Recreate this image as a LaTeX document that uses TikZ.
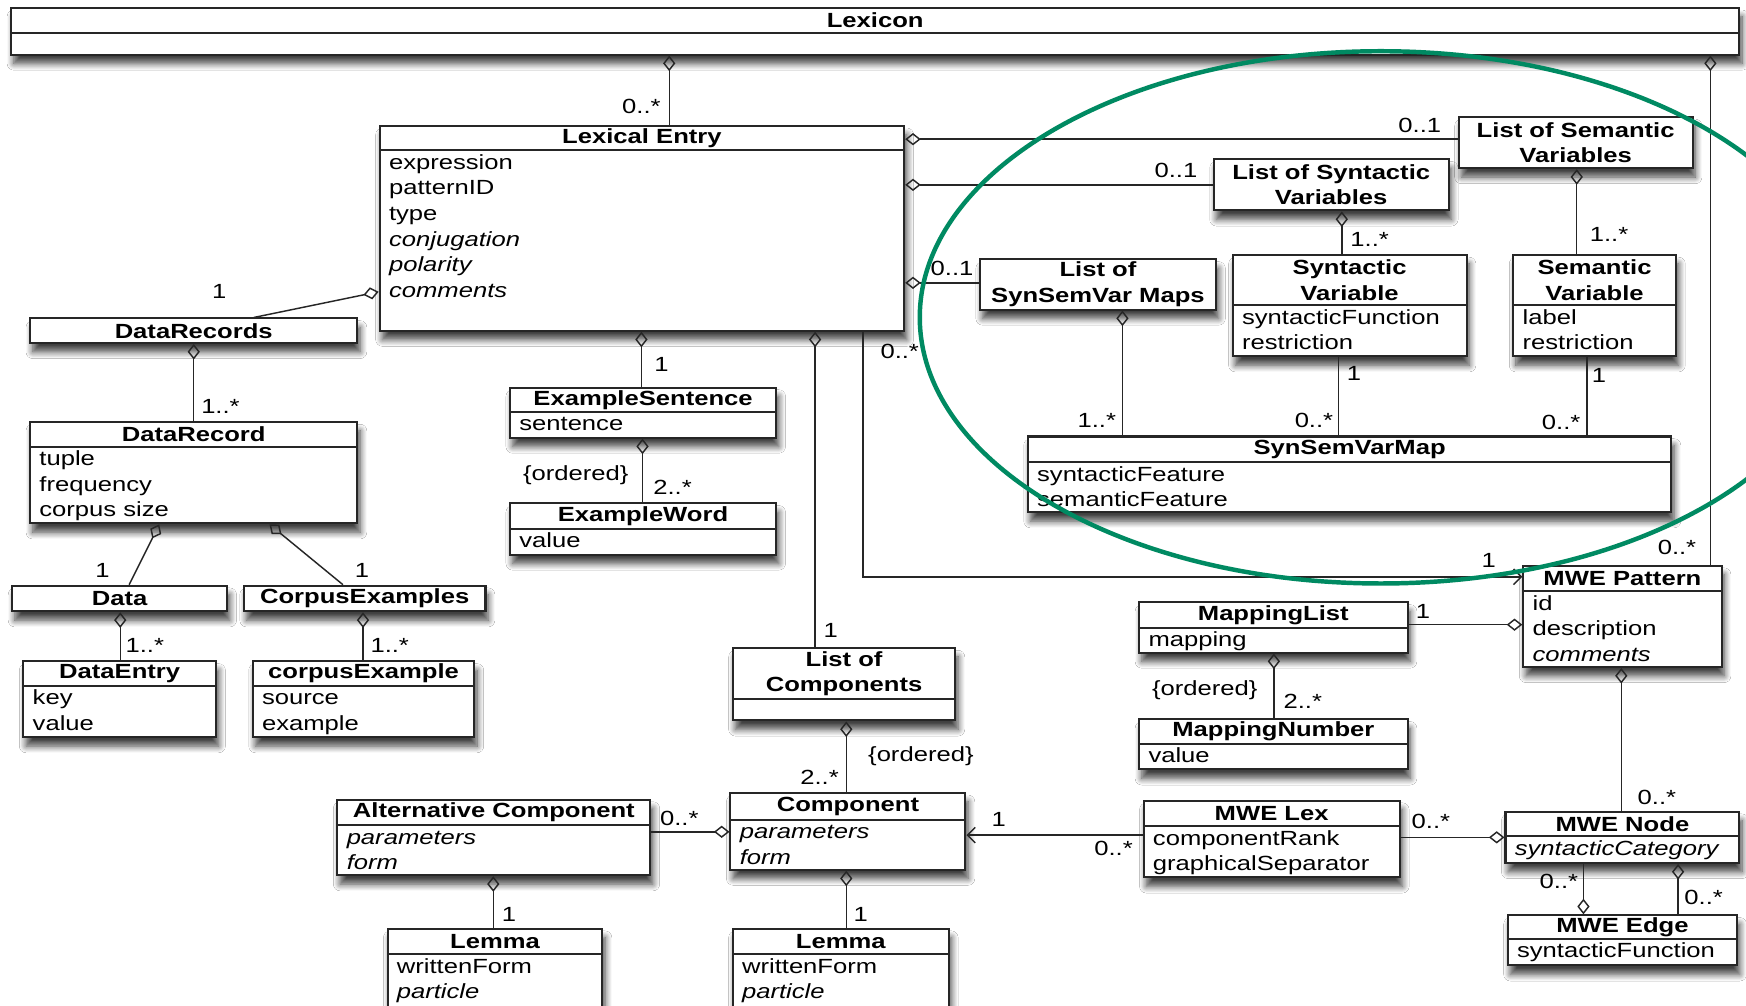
\documentclass[tikz,border=0pt]{standalone}
\usepackage{fontspec}
\setmainfont{Liberation Sans}[FakeStretch=1.25]
\usetikzlibrary{arrows.meta,fit,shadows.blur}
\definecolor{ellgreen}{RGB}{0,138,98}
\tikzset{
  umlbox/.style={draw=black!85, line width=0.9pt, fill=white, inner sep=0pt,
    blur shadow={shadow xshift=1.2pt, shadow yshift=-4pt, shadow blur radius=3pt, shadow blur steps=8, shadow opacity=75}},
  ttl/.style={font=\fontsize{9.2}{11.5}\selectfont\bfseries, align=center, inner sep=0pt},
  att/.style={font=\fontsize{9.2}{11.5}\selectfont, inner sep=0pt, anchor=base west},
  lab/.style={font=\fontsize{9.2}{11.5}\selectfont, inner sep=0pt},
  divline/.style={line width=0.9pt, draw=black!85},
  conn/.style={line width=0.65pt, draw=black!85},
  agg/.style={conn, {Diamond[open,length=7pt,width=5.5pt,line width=0.65pt]}-},
  nav/.style={conn, -{Straight Barb[length=3.5pt,width=7pt]}},
}
% name, x1, y1, x2, y2, divider, title, attributes
\newcommand{\umlclass}[8]{%
  \node[umlbox, fit={(#2,#3)(#4,#5)}] (#1) {};
  \node[ttl] (#1-t) at ({(#2+#4)/2},{(#3+#6)/2}) {#7};
  \draw[divline] (#2,#6) -- (#4,#6);
  \foreach \a [count=\i from 0] in {#8} {\node[att] (#1-a\i) at ({#2+8},{#6+17+23*\i}) {\a};}
}
% class with divider, no attributes
\newcommand{\umlbare}[7]{%
  \node[umlbox, fit={(#2,#3)(#4,#5)}] (#1) {};
  \node[ttl] (#1-t) at ({(#2+#4)/2},{(#3+#6)/2}) {#7};
  \draw[divline] (#2,#6) -- (#4,#6);
}
% single compartment
\newcommand{\umlplain}[6]{%
  \node[umlbox, fit={(#2,#3)(#4,#5)}] (#1) {};
  \node[ttl] (#1-t) at ({(#2+#4)/2},{(#3+#5)/2}) {#6};
}
\begin{document}
\begin{tikzpicture}[x=0.5pt, y=-0.5pt]
\fill[white] (0,0) rectangle (1568,903);
\path[use as bounding box, clip] (0,0) rectangle (1568,903);

% classes
\umlbare{Lexicon}{10}{7}{1562}{49}{30}{Lexicon}
\umlclass{LexEntry}{341}{113}{812}{297}{135}{Lexical Entry}{expression,patternID,type,\itshape conjugation,\itshape polarity,\itshape comments}
\umlplain{DataRecords}{27}{286}{321}{308}{DataRecords}
\umlclass{DataRecord}{27}{379}{321}{470}{401}{DataRecord}{tuple,frequency,corpus size}
\umlplain{Data}{11}{526}{204}{549}{Data}
\umlplain{CorpusExamples}{219}{526}{436}{549}{CorpusExamples}
\umlclass{DataEntry}{21}{594}{194}{662}{616}{DataEntry}{key,value}
\umlclass{CorpusExample}{227}{594}{426}{662}{616}{corpusExample}{source,example}
\umlclass{ExSent}{458}{348}{697}{393}{370}{ExampleSentence}{sentence}
\umlclass{ExWord}{458}{452}{697}{498}{475}{ExampleWord}{value}
\umlbare{ListComp}{658}{582}{858}{647}{628}{List of\\Components}
\umlclass{Component}{656}{712}{867}{781}{736}{Component}{\itshape parameters,\itshape form}
\umlclass{AltComp}{303}{718}{584}{786}{741}{Alternative Component}{\itshape parameters,\itshape form}
\umlclass{LemmaL}{348}{834}{541}{915}{857}{Lemma}{writtenForm,\itshape particle}
\umlclass{LemmaR}{658}{834}{852}{915}{857}{Lemma}{writtenForm,\itshape particle}
\umlclass{MWELex}{1027}{719}{1257}{788}{742}{MWE Lex}{componentRank,graphicalSeparator}
\umlclass{MWENode}{1352}{729}{1562}{775}{751}{MWE Node}{\itshape syntacticCategory}
\umlclass{MWEEdge}{1354}{822}{1560}{867}{843}{MWE Edge}{syntacticFunction}
\umlclass{MapList}{1023}{541}{1264}{586}{564}{MappingList}{mapping}
\umlclass{MapNum}{1023}{646}{1264}{691}{668}{MappingNumber}{value}
\umlclass{MWEPattern}{1368}{508}{1546}{599}{531}{MWE Pattern}{id,description,\itshape comments}
\umlplain{ListSemVar}{1310}{105}{1520}{151}{List of Semantic\\Variables}
\umlplain{ListSynVar}{1090}{143}{1301}{189}{List of Syntactic\\Variables}
\umlplain{ListSSVM}{880}{233}{1092}{278}{List of\\SynSemVar Maps}
\umlclass{SynVar}{1107}{229}{1317}{320}{274}{Syntactic\\Variable}{syntacticFunction,restriction}
\umlclass{SemVar}{1359}{229}{1505}{320}{274}{Semantic\\Variable}{label,restriction}
\umlclass{SSVM}{923}{392}{1501}{460}{415}{SynSemVarMap}{syntacticFeature,semanticFeature}

% connectors
\draw[agg] (Lexicon.south -| 601,0) -- (LexEntry.north -| 601,0);
\draw[agg] (Lexicon.south -| 1536,0) -- (MWEPattern.north -| 1536,0);
\draw[agg] (LexEntry.east |- 0,125) -- (ListSemVar.west |- 0,125);
\draw[agg] (LexEntry.east |- 0,166) -- (ListSynVar.west |- 0,166);
\draw[agg] (LexEntry.east |- 0,254) -- (ListSSVM.west |- 0,254);
\draw[agg] (ListSSVM.south -| 1008,0) -- (SSVM.north -| 1008,0);
\draw[agg] (ListSynVar.south -| 1205,0) -- (SynVar.north -| 1205,0);
\draw[agg] (ListSemVar.south -| 1416,0) -- (SemVar.north -| 1416,0);
\draw[conn] (SynVar.south -| 1202,0) -- (SSVM.north -| 1202,0);
\draw[conn] (SemVar.south -| 1425,0) -- (SSVM.north -| 1425,0);
\draw[nav] (LexEntry.south -| 775,0) |- (MWEPattern.west |- 0,518);
\draw[agg] (LexEntry.west |- 0,262) -- (DataRecords.north -| 228,0);
\draw[agg] (DataRecords.south -| 174,0) -- (DataRecord.north -| 174,0);
\draw[agg] (DataRecord.south -| 143,0) -- (Data.north -| 116,0);
\draw[agg] (DataRecord.south -| 242,0) -- (CorpusExamples.north -| 308,0);
\draw[agg] (Data.south -| 108,0) -- (DataEntry.north -| 108,0);
\draw[agg] (CorpusExamples.south -| 326,0) -- (CorpusExample.north -| 326,0);
\draw[agg] (LexEntry.south -| 576,0) -- (ExSent.north -| 576,0);
\draw[agg] (ExSent.south -| 577,0) -- (ExWord.north -| 577,0);
\draw[agg] (LexEntry.south -| 732,0) -- (ListComp.north -| 732,0);
\draw[agg] (ListComp.south -| 760,0) -- (Component.north -| 760,0);
\draw[agg] (Component.west |- 0,747) -- (AltComp.east |- 0,747);
\draw[agg] (AltComp.south -| 443,0) -- (LemmaL.north -| 443,0);
\draw[agg] (Component.south -| 760,0) -- (LemmaR.north -| 760,0);
\draw[nav] (MWELex.west |- 0,750) -- (Component.east |- 0,750);
\draw[agg] (MWENode.west |- 0,752) -- (MWELex.east |- 0,752);
\draw[agg] (MWEPattern.south -| 1456,0) -- (MWENode.north -| 1456,0);
\draw[agg] (MWEEdge.north -| 1422,0) -- (MWENode.south -| 1422,0);
\draw[agg] (MWENode.south -| 1507,0) -- (MWEEdge.north -| 1507,0);
\draw[agg] (MWEPattern.west |- 0,561) -- (MapList.east |- 0,561);
\draw[agg] (MapList.south -| 1144,0) -- (MapNum.north -| 1144,0);

% multiplicities
\node[lab] (l1) at (576,96) {0..*};
\node[lab] (l2) at (1506,492) {0..*};
\node[lab] (l3) at (1275,113) {0..1};
\node[lab] (l4) at (1056,153) {0..1};
\node[lab] (l5) at (855,241) {0..1};
\node[lab] (l6) at (985,378) {1..*};
\node[lab] (l7) at (1230,215) {1..*};
\node[lab] (l8) at (1445,211) {1..*};
\node[lab] (l9) at (1216,335) {1};
\node[lab] (l10) at (1180,378) {0..*};
\node[lab] (l11) at (1436,337) {1};
\node[lab] (l12) at (1402,379) {0..*};
\node[lab] (l13) at (808,316) {0..*};
\node[lab] (l14) at (1337,503) {1};
\node[lab] (l15) at (197,262) {1};
\node[lab] (l16) at (198,365) {1..*};
\node[lab] (l17) at (92,512) {1};
\node[lab] (l18) at (325,512) {1};
\node[lab] (l19) at (130,580) {1..*};
\node[lab] (l20) at (350,580) {1..*};
\node[lab] (l21) at (594,327) {1};
\node[lab] (l22) at (517,427) {\{ordered\}};
\node[lab] (l23) at (604,438) {2..*};
\node[lab] (l24) at (746,566) {1};
\node[lab] (l25) at (827,679) {\{ordered\}};
\node[lab] (l26) at (736,698) {2..*};
\node[lab] (l27) at (610,735) {0..*};
\node[lab] (l28) at (457,821) {1};
\node[lab] (l29) at (773,821) {1};
\node[lab] (l30) at (897,736) {1};
\node[lab] (l31) at (1000,762) {0..*};
\node[lab] (l32) at (1285,738) {0..*};
\node[lab] (l33) at (1488,716) {0..*};
\node[lab] (l34) at (1400,792) {0..*};
\node[lab] (l35) at (1530,806) {0..*};
\node[lab] (l36) at (1278,549) {1};
\node[lab] (l37) at (1082,620) {\{ordered\}};
\node[lab] (l38) at (1170,630) {2..*};

% highlight ellipse
\draw[ellgreen, line width=2pt] (1240,285) ellipse [x radius=414, y radius=239];
\end{tikzpicture}
\end{document}
